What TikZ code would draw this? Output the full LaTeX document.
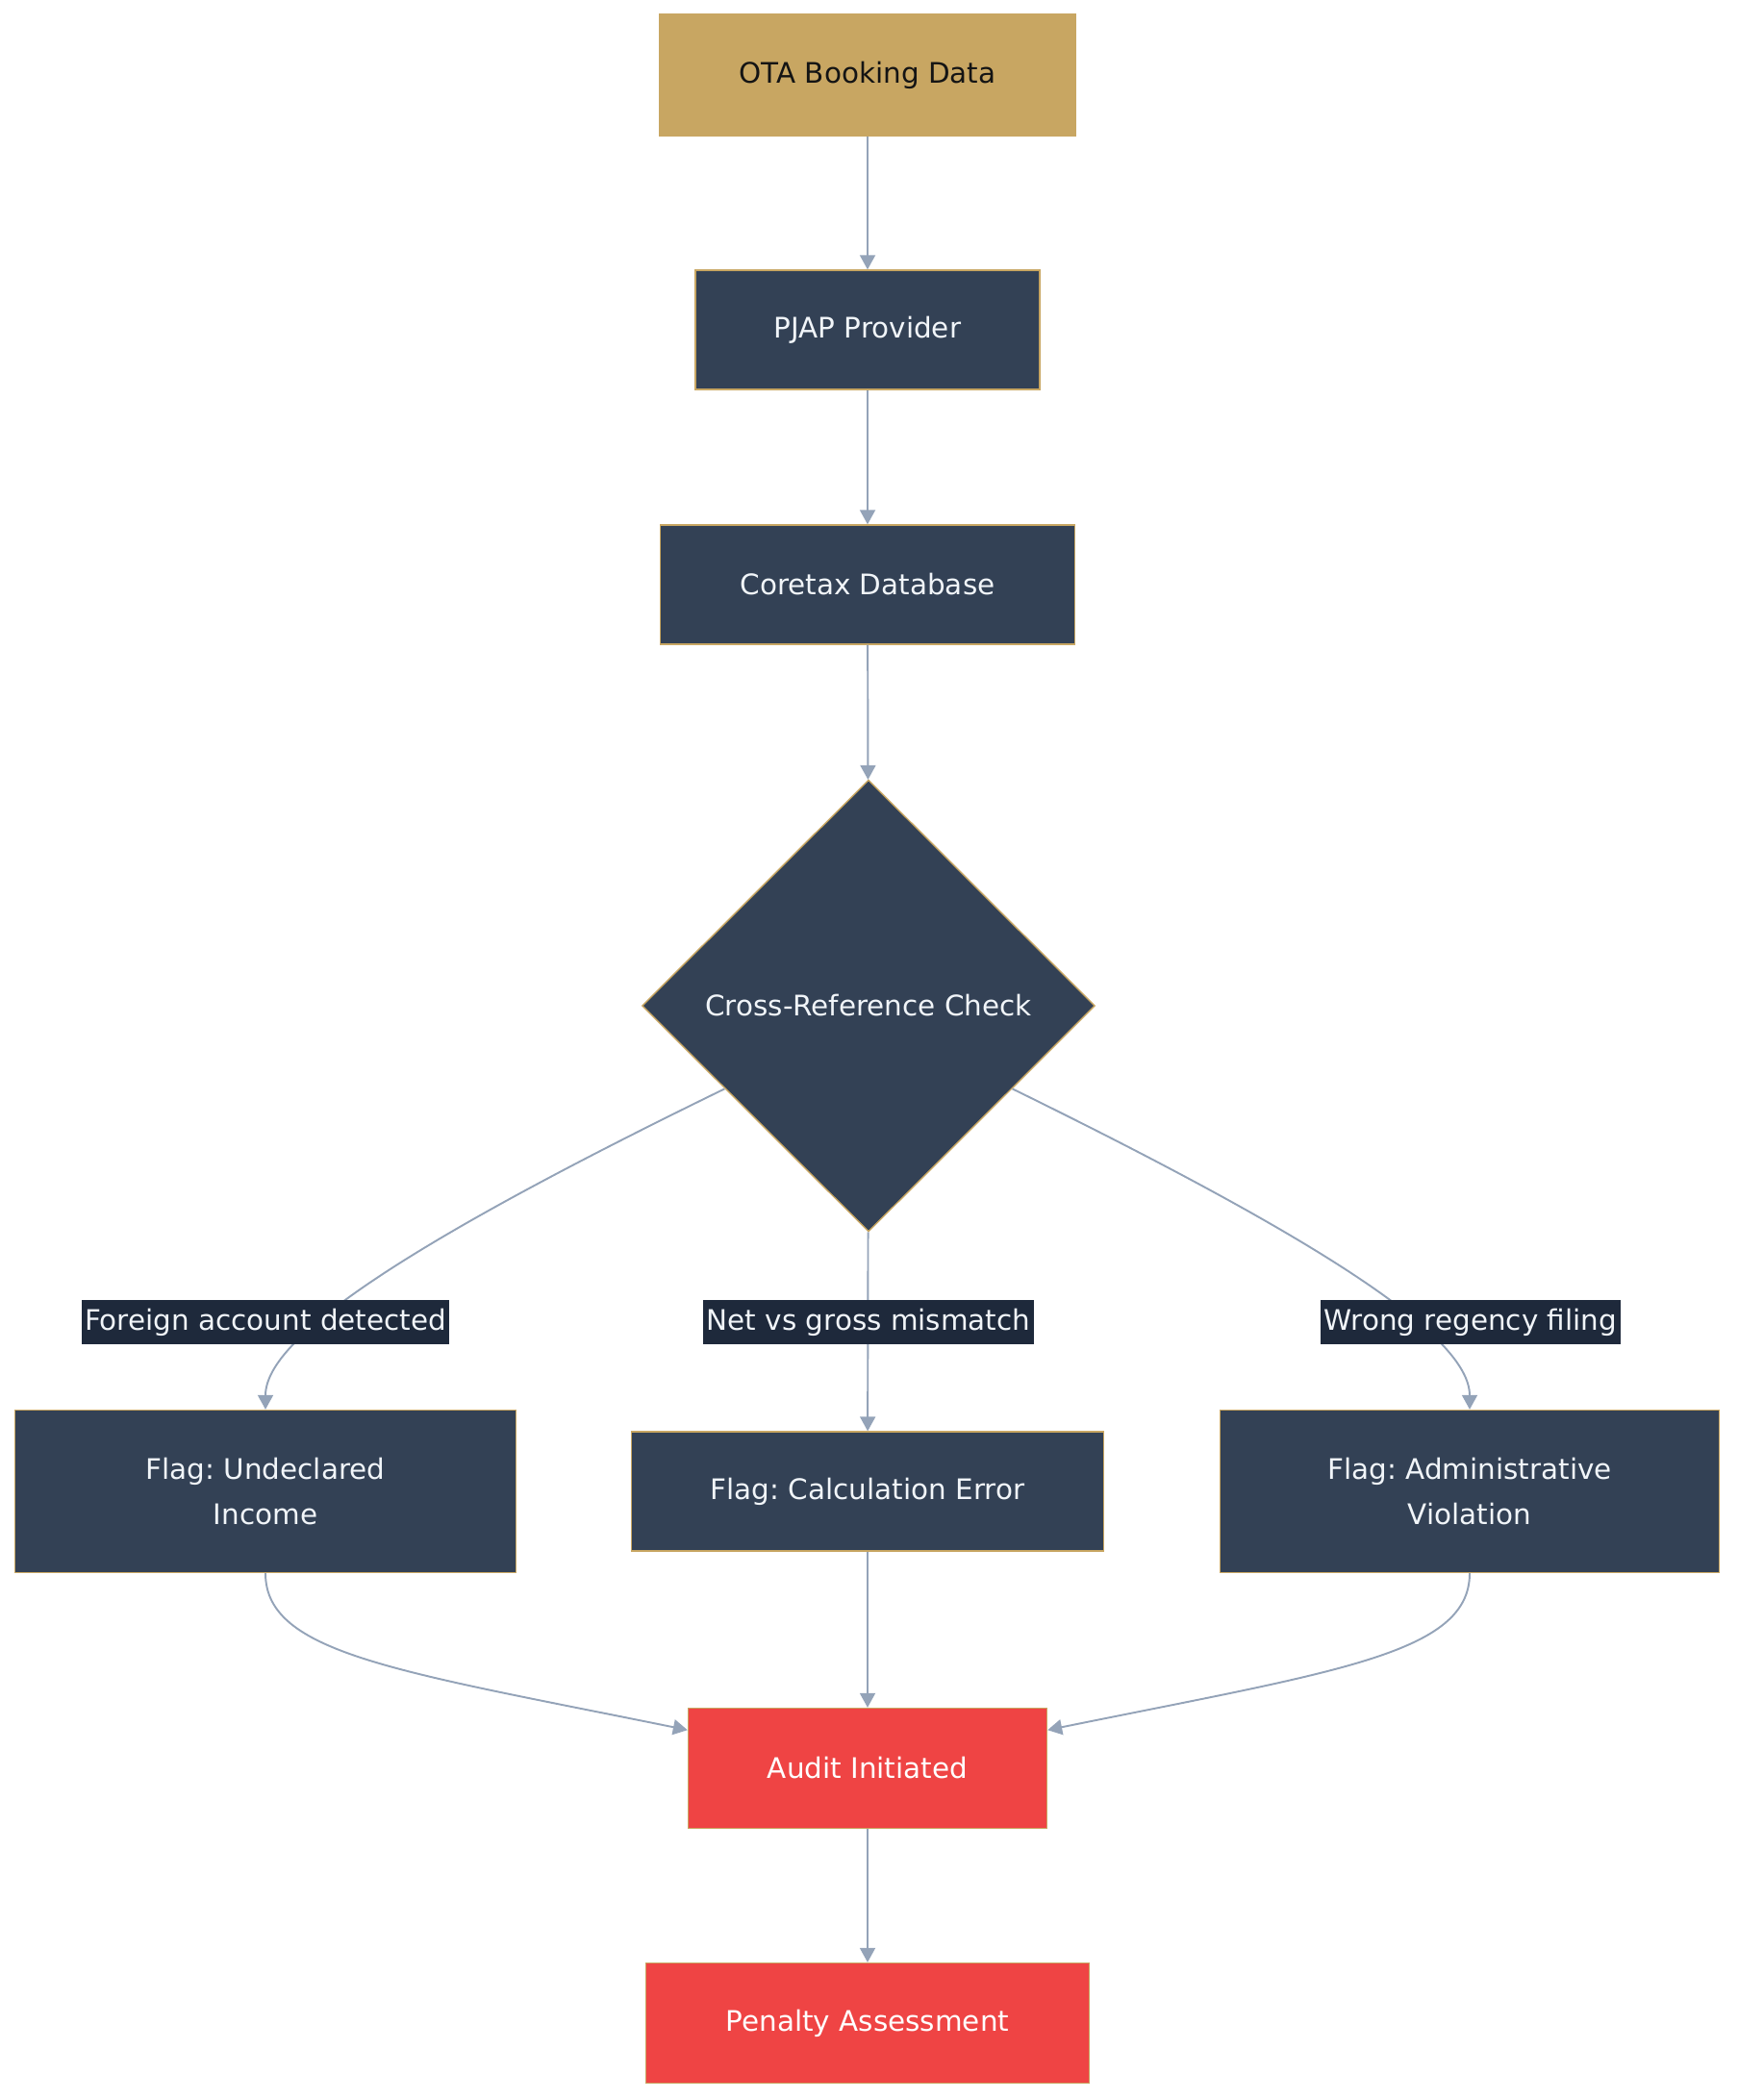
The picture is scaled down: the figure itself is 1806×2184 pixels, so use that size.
\documentclass[tikz,border=0pt]{standalone}
\usepackage{fontspec}
\setmainfont{DejaVu Sans}
\usetikzlibrary{arrows.meta, positioning, shapes.geometric}
\definecolor{gold}{HTML}{C8A662}
\definecolor{slate}{HTML}{334155}
\definecolor{slatedk}{HTML}{1E293B}
\definecolor{wire}{HTML}{94A3B8}
\definecolor{alarm}{HTML}{EF4444}
\definecolor{ink}{HTML}{F1F5F9}
\frenchspacing
\tikzset{%
   % every box of the flow shares the thin gold outline
   box/.style={
      rectangle,
      draw=gold,
      line width=.8pt,
      inner sep=0pt,
      align=center,
      fill=slate,
      text=ink,
      font=\fontsize{16.75}{26.6}\selectfont
   },
   src/.style={
      box,
      fill=gold,
      text=black!92
   },
   alert/.style={
      box,
      fill=alarm,
      text=white
   },
   dec/.style={
      box,
      diamond,
      aspect=1
   },
   % edge labels sit on a dark plate over the wire
   lbl/.style={
      fill=slatedk,
      text=ink,
      inner xsep=2pt,
      inner ysep=0pt,
      minimum height=.92cm,
      font=\fontsize{16.75}{20}\selectfont
   },
   flow/.style={
      draw=wire,
      line width=1.1pt,
      -{Triangle[length=.3cm, width=.32cm]}
   },
}

\begin{document}
\begin{tikzpicture}[x=.02cm, y=-.02cm]
   \useasboundingbox (0,0) rectangle (1806,2184);
   \node[src, minimum width=8.66cm, minimum height=2.52cm] (ota) at (902,78) {OTA Booking Data};
   \node[box, minimum width=7.16cm, minimum height=2.48cm] (pjap) at (902,343) {PJAP Provider};
   \node[box, minimum width=8.62cm, minimum height=2.48cm] (core) at (902,608) {Coretax Database};
   \node[dec, minimum width=9.42cm, minimum height=9.4cm] (chk) at (903,1046) {Cross-Reference Check};
   \node[box, minimum width=10.42cm, minimum height=3.38cm] (fu) at (276,1551) {Flag: Undeclared\\Income};
   \node[box, minimum width=9.82cm, minimum height=2.48cm] (fc) at (902,1551) {Flag: Calculation Error};
   \node[box, minimum width=10.38cm, minimum height=3.38cm] (fa) at (1528,1551) {Flag: Administrative\\Violation};
   \node[alert, minimum width=7.46cm, minimum height=2.5cm] (aud) at (902,1839) {Audit Initiated};
   \node[alert, minimum width=9.22cm, minimum height=2.5cm] (pen) at (902,2104) {Penalty Assessment};

   \draw[flow] (ota) -- (pjap);
   \draw[flow] (pjap) -- (core);
   \draw[flow] (core) -- (chk);
   \draw[flow] (chk.210) .. controls (430,1290) and (276,1390) .. (fu);
   \draw[flow] (chk) -- (fc);
   \draw[flow] (chk.330) .. controls (1374,1290) and (1528,1390) .. (fa);
   \draw[flow] (fu) .. controls (276,1720) and (414,1738) .. (aud.168);
   \draw[flow] (fc) -- (aud);
   \draw[flow] (fa) .. controls (1528,1720) and (1390,1738) .. (aud.12);
   \draw[flow] (aud) -- (pen);

   \node[lbl] (lfu) at (276,1375) {Foreign account detected};
   \node[lbl] (lfc) at (903,1375) {Net vs gross mismatch};
   \node[lbl] (lfa) at (1529,1375) {Wrong regency filing};
\end{tikzpicture}
\end{document}
